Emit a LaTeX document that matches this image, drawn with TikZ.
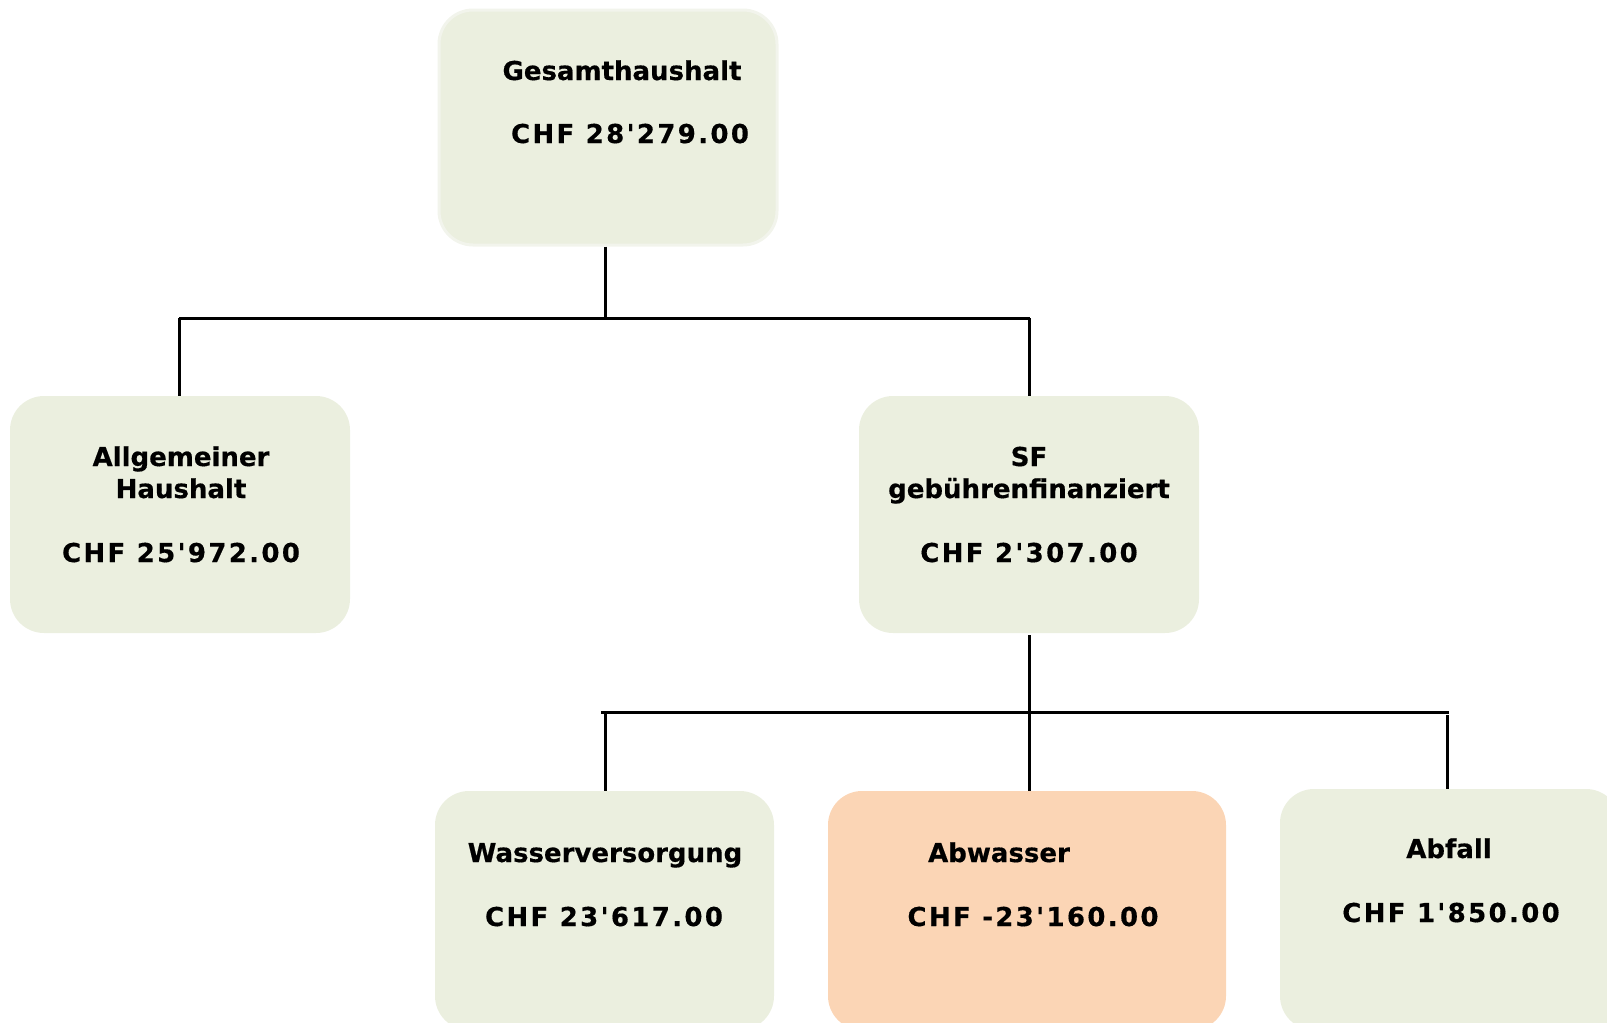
\documentclass[tikz,border=0pt]{standalone}
\usepackage{fontspec}
\setmainfont{DejaVu Sans}[BoldFeatures={FakeBold=0.5}]
\newfontfamily\chffont{DejaVu Sans}[LetterSpace=9,BoldFeatures={FakeBold=0.5}]
\definecolor{boxgreen}{HTML}{EBEFDF}
\definecolor{boxorange}{HTML}{FBD5B5}
\definecolor{glow}{HTML}{F2F4EC}
\begin{document}
\begin{tikzpicture}[x=1pt,y=-1pt,
  box/.style={rectangle, rounded corners=34pt, fill=boxgreen, draw=none, inner sep=0pt},
  lbl/.style={anchor=base, inner sep=0pt, font=\fontsize{26}{32}\selectfont\bfseries},
  amt/.style={anchor=base, inner sep=0pt, font=\fontsize{26}{32}\selectfont\chffont\bfseries},
  conn/.style={line width=3pt, black}]
\useasboundingbox (0,0) rectangle (1607,1023);
% boxes
\node[box, draw=glow, line width=3pt, minimum width=338pt, minimum height=235pt] (top) at (608,127.5) {};
\node[box, minimum width=340pt, minimum height=237pt] (allg) at (180,514.5) {};
\node[box, minimum width=340pt, minimum height=237pt] (sf) at (1029,514.5) {};
\node[box, minimum width=339pt, minimum height=239pt] (wasser) at (604.5,910.5) {};
\node[box, fill=boxorange, minimum width=398pt, minimum height=239pt] (abw) at (1027,910.5) {};
\node[box, minimum width=340pt, minimum height=241pt] (abf) at (1450,909.5) {};
% texts
\node[lbl] (t1) at (622,80) {Gesamthaushalt};
\node[amt] (t2) at (630,143) {CHF 28'279.00};
\node[lbl] (a1) at (181,466) {Allgemeiner};
\node[lbl] (a2) at (181,498) {Haushalt};
\node[amt] (a3) at (181,562) {CHF 25'972.00};
\node[lbl] (s1) at (1029,466) {SF};
\node[lbl] (s2) at (1029,498) {gebührenfinanziert};
\node[amt] (s3) at (1029,562) {CHF 2'307.00};
\node[lbl] (w1) at (605,862) {Wasserversorgung};
\node[amt] (w2) at (604,926) {CHF 23'617.00};
\node[lbl] (b1) at (999,862) {Abwasser};
\node[amt] (b2) at (1033,926) {CHF -23'160.00};
\node[lbl] (f1) at (1449,858) {Abfall};
\node[amt] (f2) at (1451,922) {CHF 1'850.00};
% connectors
\coordinate (busA) at (605,318);
\coordinate (busAL) at (179,318);
\coordinate (busAR) at (1030,318);
\coordinate (busB) at (1029,712);
\coordinate (busBL) at (601,712);
\coordinate (busBR) at (1449,712);
\coordinate (busBw) at (605,712);
\coordinate (busBf) at (1447,715);
\draw[conn] (top.south -| busA) -- (busA);
\draw[conn] (busAL) -- (busAR);
\draw[conn] (busAL) -- (busAL |- allg.north);
\draw[conn] (busAR -| sf.north) -- (sf.north);
\draw[conn] (sf.south) ++(0,2) -- (busB);
\draw[conn] (busBL) -- (busBR);
\draw[conn] (busBw) -- (busBw |- wasser.north);
\draw[conn] (busB) -- (abw.north -| busB);
\draw[conn] (busBf) -- (busBf |- abf.north);
\end{tikzpicture}
\end{document}
